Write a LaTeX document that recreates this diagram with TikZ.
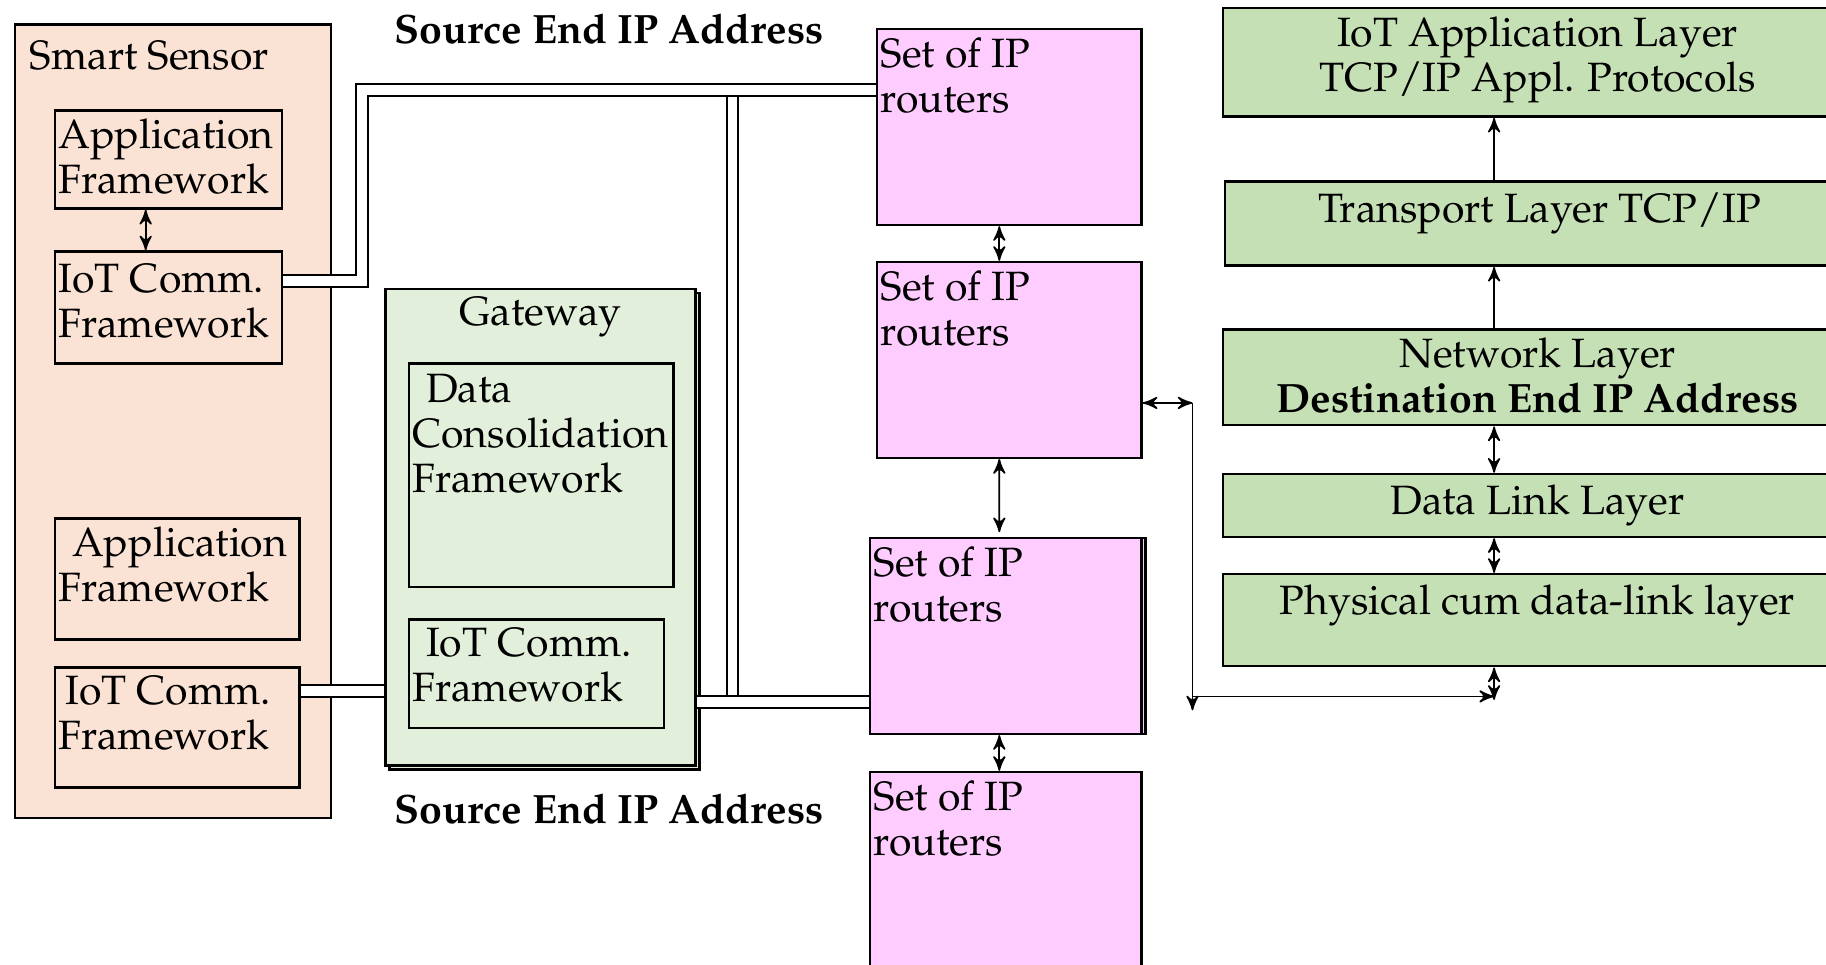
\documentclass[tikz,border=0pt]{standalone}
\usepackage[T1]{fontenc}
\usepackage{mathpazo}
\usetikzlibrary{calc,arrows,shadows}

\definecolor{peach}{RGB}{250,226,212}
\definecolor{gwgreen}{RGB}{226,239,218}
\definecolor{rtpink}{RGB}{255,204,255}
\definecolor{laygreen}{RGB}{197,224,180}

\begin{document}
\begin{tikzpicture}[x=0.01cm,y=-0.01cm,
  every node/.style={font=\fontsize{10}{11}\selectfont},
  box/.style={draw,semithick,anchor=north west,inner sep=0pt},
  sensorbox/.style={box,fill=peach},
  gwbox/.style={box,fill=gwgreen},
  rtbox/.style={box,fill=rtpink,minimum height=1.68cm},
  laybox/.style={box,fill=laygreen,minimum width=5.4cm},
  txt/.style={anchor=north west,align=left,inner xsep=1pt,inner ysep=2.2pt},
  laytxt/.style={anchor=north,align=center,inner sep=2.2pt},
  pipe/.style={draw=black,line width=0.5pt,double=white,double distance=2.4pt},
  link/.style={>=stealth',thin}]
\useasboundingbox (0,0) rectangle (1568,828);
\clip (0,0) rectangle (1568,828);

\node[sensorbox,minimum width=2.71cm,minimum height=6.81cm] (sensor) at (12,20) {};
\node[txt,inner xsep=0pt] (sensortxt) at ([xshift=0.13cm,yshift=-0.07cm]sensor.north west) {Smart Sensor};
\node[sensorbox,minimum width=1.95cm,minimum height=0.84cm] (appfw) at (46,94) {};
\node[txt] (appfwtxt) at (appfw.north west) {Application\\Framework};
\node[sensorbox,minimum width=1.95cm,minimum height=0.96cm] (iotfw) at (46,215) {};
\node[txt] (iotfwtxt) at ([yshift=-0.03cm]iotfw.north west) {IoT Comm.\\Framework};
\node[sensorbox,minimum width=2.1cm,minimum height=1.04cm] (appfwb) at (46,444) {};
\node[txt] (appfwbtxt) at (appfwb.north west) {\,\,Application\\Framework};
\node[sensorbox,minimum width=2.1cm,minimum height=1.03cm] (iotfwb) at (46,572) {};
\node[txt] (iotfwbtxt) at (iotfwb.north west) {\,IoT Comm.\\Framework};
\draw[link,<->] ([xshift=-0.195cm]appfw.south) -- ([xshift=-0.195cm]iotfw.north);

\node[gwbox,minimum width=2.66cm,minimum height=4.09cm,copy shadow={shadow xshift=1pt,shadow yshift=-1pt}] (gateway) at (330,247) {};
\node[laytxt] (gatewaytxt) at (gateway.north) {Gateway};
\node[gwbox,minimum width=2.27cm,minimum height=1.92cm] (dcf) at (350,311) {};
\node[txt] (dcftxt) at ([yshift=-0.02cm]dcf.north west) {\,\,Data\\Consolidation\\Framework};
\node[gwbox,minimum width=2.19cm,minimum height=0.93cm] (gwiot) at (350,531) {};
\node[txt] (gwiottxt) at (gwiot.north west) {\,\,IoT Comm.\\Framework};

\node[rtbox,minimum width=2.27cm] (rta) at (752,24) {};
\node[txt] (rtatxt) at (rta.north west) {Set of IP\\routers};
\node[rtbox,minimum width=2.27cm] (rtb) at (752,224) {};
\node[txt] (rtbtxt) at (rtb.north west) {Set of IP\\routers};
\node[rtbox,minimum width=2.33cm,copy shadow={shadow xshift=1pt,shadow yshift=0pt}] (rtc) at (746,461) {};
\node[txt] (rtctxt) at (rtc.north west) {Set of IP\\routers};
\node[rtbox,minimum width=2.33cm,minimum height=1.9cm] (rtd) at (746,662) {};
\node[txt] (rtdtxt) at (rtd.north west) {Set of IP\\routers};

\node[font=\fontsize{10}{11}\selectfont\bfseries] (srctop) at (523,25) {Source End IP Address};
\node[font=\fontsize{10}{11}\selectfont\bfseries] (srcbot) at (523,695) {Source End IP Address};

\coordinate (tapa) at (311,77);
\coordinate (tapb) at (629,603);
\draw[pipe] ([yshift=0.23cm]iotfw.east) -| (tapa) -- (tapa -| rta.west);
\draw[pipe] ([yshift=-0.06cm]tapa -| tapb) -- ([yshift=0.06cm]tapb);
\draw[pipe] (gateway.east |- tapb) -- (rtc.west |- tapb);
\draw[pipe] ([yshift=0.31cm]iotfwb.east) -- ([yshift=0.31cm]iotfwb.east -| gateway.west);

\draw[link,<->] ([xshift=-0.085cm]rta.south) -- ([xshift=-0.085cm]rtb.north);
\draw[link,<->] ([xshift=-0.085cm]rtb.south) -- ([xshift=-0.055cm,yshift=0.04cm]rtc.north);
\draw[link,<->] ([xshift=-0.055cm]rtc.south) -- ([xshift=-0.055cm]rtd.north);

\node[laybox,minimum height=0.93cm] (applayer) at (1049,6) {};
\node[laytxt] (applayertxt) at (applayer.north) {IoT Application Layer\\TCP/IP Appl. Protocols};
\node[laybox,minimum height=0.72cm] (translayer) at (1051,155) {};
\node[laytxt] (translayertxt) at ([yshift=-0.02cm]translayer.north) {Transport Layer TCP/IP};
\node[laybox,minimum height=0.82cm] (netlayer) at (1049,282) {};
\node[laytxt] (netlayertxt) at (netlayer.north) {Network Layer\\\textbf{Destination End IP Address}};
\node[laybox,minimum height=0.54cm] (dllayer) at (1049,406) {};
\node[laytxt] (dllayertxt) at ([yshift=-0.02cm]dllayer.north) {Data Link Layer};
\node[laybox,minimum height=0.79cm] (phylayer) at (1049,492) {};
\node[laytxt] (phylayertxt) at ([yshift=-0.02cm]phylayer.north) {Physical cum data-link layer};

\coordinate (busa) at (1024,346);
\coordinate (busb) at (1024,598);
\coordinate (busc) at (1283,598);
\draw[link,<->] (rtb.east |- busa) -- (busa);
\draw[link,->] (busa) -- ([yshift=-0.12cm]busb);
\draw[link,->] (busb) -- (busc);
\draw[link,<->] (phylayer.south -| busc) -- ([yshift=-0.03cm]busc);

\draw[link,->] (translayer.north -| busc) -- (applayer.south -| busc);
\draw[link,->] (netlayer.north -| busc) -- (translayer.south -| busc);
\draw[link,<->] (netlayer.south -| busc) -- (dllayer.north -| busc);
\draw[link,<->] (dllayer.south -| busc) -- (phylayer.north -| busc);
\end{tikzpicture}
\end{document}
